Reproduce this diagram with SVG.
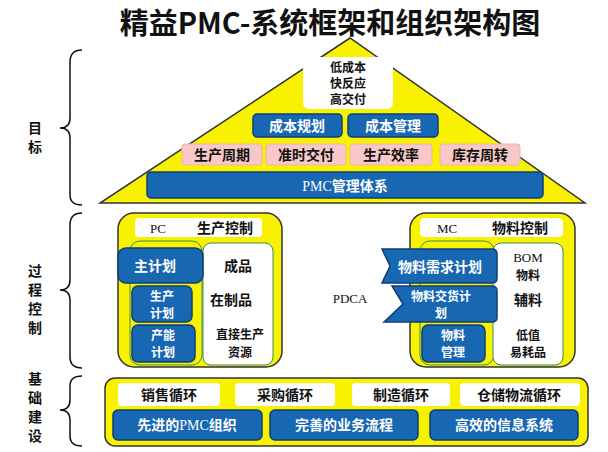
<svg xmlns="http://www.w3.org/2000/svg" width="608" height="452" viewBox="0 0 608 452">
<style>
text{font-family:"Noto Sans CJK SC","Liberation Sans",sans-serif;font-weight:bold;text-anchor:middle}
.y{fill:#f8f200;stroke:#333;stroke-width:1.5}
.b{fill:#1867b3;stroke:#0c3f73;stroke-width:1.5}
.w{fill:#fff}
.p{fill:#f7c8c8;stroke:#f0b0b0}
.wt{fill:#fff;font-size:14px}
.kt{fill:#111;font-size:14px}
.s{font-size:12px}
.br{fill:none;stroke:#111;stroke-width:1.5}
.sf{font-family:"Liberation Serif",serif;font-weight:normal}
</style>
<text x="330" y="34" style="font-size:29px" fill="#111">精益PMC-系统框架和组织架构图</text>
<g id="braces">
<path class="br" d="M82 50 Q70 50 70 62 L70 118 Q70 128 60 128 Q70 128 70 138 L70 195 Q70 205 82 205"/>
<path class="br" d="M82 213 Q70 213 70 225 L70 280 Q70 290 60 290 Q70 290 70 300 L70 357 Q70 368 82 368"/>
<path class="br" d="M82 376 Q70 376 70 386 L70 400 Q70 410 60 410 Q70 410 70 420 L70 436 Q70 446 82 446"/>
<text x="35" y="133" class="kt">目</text><text x="35" y="152" class="kt">标</text>
<text x="35" y="276" class="kt">过</text><text x="35" y="295" class="kt">程</text><text x="35" y="314" class="kt">控</text><text x="35" y="333" class="kt">制</text>
<text x="35" y="384" class="kt">基</text><text x="35" y="403" class="kt">础</text><text x="35" y="422" class="kt">建</text><text x="35" y="441" class="kt">设</text>
</g>
<g id="goal">
<polygon class="y" points="350,38 100,203 585,203"/>
<rect class="w" x="303" y="57" width="90" height="52" rx="6"/>
<text x="348" y="72" class="kt s">低成本</text><text x="348" y="88" class="kt s">快反应</text><text x="348" y="104" class="kt s">高交付</text>
<rect class="b" x="253" y="114" width="89" height="23" rx="4"/><text x="297" y="131" class="wt">成本规划</text>
<rect class="b" x="348" y="114" width="90" height="23" rx="4"/><text x="393" y="131" class="wt">成本管理</text>
<rect class="p" x="182" y="144" width="80" height="21" rx="3"/><text x="222" y="160" class="kt">生产周期</text>
<rect class="p" x="266" y="144" width="80" height="21" rx="3"/><text x="306" y="160" class="kt">准时交付</text>
<rect class="p" x="350" y="144" width="82" height="21" rx="3"/><text x="391" y="160" class="kt">生产效率</text>
<rect class="p" x="440" y="144" width="80" height="21" rx="3"/><text x="480" y="160" class="kt">库存周转</text>
<rect class="b" x="147" y="172" width="396" height="26" rx="4"/><text x="345" y="191" class="wt"><tspan class="sf">PMC</tspan>管理体系</text>
</g>
<g id="pc">
<rect class="y" x="118" y="213" width="164" height="154" rx="16"/>
<rect class="w" x="135" y="218" width="127" height="19" rx="4"/>
<text x="158" y="233" class="kt sf" style="font-size:13px">PC</text><text x="225" y="233" class="kt">生产控制</text>
<rect x="130" y="241" width="72" height="124" rx="10" fill="none" stroke="#3a8a60"/>
<rect class="w" x="203" y="243" width="70" height="122" rx="8" stroke="#3a8a60"/>
<rect class="b" x="118" y="248" width="85" height="35" rx="8"/><text x="155" y="271" class="wt">主计划</text>
<rect class="b" x="132" y="286" width="60" height="36" rx="6"/><text x="162" y="301" class="wt s">生产</text><text x="162" y="318" class="wt s">计划</text>
<rect class="b" x="132" y="325" width="63" height="37" rx="6"/><text x="163" y="340" class="wt s">产能</text><text x="163" y="357" class="wt s">计划</text>
<text x="238" y="271" class="kt">成品</text>
<text x="231" y="305" class="kt">在制品</text>
<text x="240" y="339" class="kt s">直接生产</text><text x="240" y="357" class="kt s">资源</text>
</g>
<text x="350" y="303" class="kt sf" style="font-size:13px">PDCA</text>
<g id="mc">
<rect class="y" x="410" y="213" width="165" height="154" rx="16"/>
<rect class="w" x="420" y="218" width="143" height="19" rx="4"/>
<text x="447" y="233" class="kt sf" style="font-size:13px">MC</text><text x="520" y="233" class="kt">物料控制</text>
<rect x="420" y="241" width="74" height="124" rx="10" fill="none" stroke="#3a8a60"/>
<rect class="w" x="493" y="243" width="70" height="122" rx="8" stroke="#3a8a60"/>
<path class="b" d="M382 249 L492 249 Q497 249 497 254 L497 278 Q497 283 492 283 L382 283 L390 266 Z"/>
<text x="440" y="272" class="wt">物料需求计划</text>
<path class="b" d="M392 286 L492 286 Q497 286 497 291 L497 317 Q497 322 492 322 L384 322 L403 304 Z"/>
<text x="441" y="301" class="wt s">物料交货计</text><text x="441" y="318" class="wt s">划</text>
<rect class="b" x="422" y="325" width="63" height="37" rx="6"/><text x="453" y="340" class="wt s">物料</text><text x="453" y="357" class="wt s">管理</text>
<text x="528" y="262" class="kt sf" style="font-size:13px">BOM</text><text x="528" y="280" class="kt s">物料</text>
<text x="528" y="305" class="kt">辅料</text>
<text x="528" y="340" class="kt s">低值</text><text x="528" y="357" class="kt s">易耗品</text>
</g>
<g id="base">
<rect class="y" x="105" y="378" width="483" height="68" rx="10"/>
<rect class="w" x="118" y="383" width="102" height="23" rx="4"/><text x="169" y="400" class="kt">销售循环</text>
<rect class="w" x="235" y="383" width="100" height="23" rx="4"/><text x="285" y="400" class="kt">采购循环</text>
<rect class="w" x="352" y="383" width="98" height="23" rx="4"/><text x="401" y="400" class="kt">制造循环</text>
<rect class="w" x="460" y="383" width="120" height="23" rx="4"/><text x="519" y="400" class="kt">仓储物流循环</text>
<rect class="b" x="113" y="410" width="149" height="30" rx="5"/><text x="187" y="430" class="wt">先进的<tspan class="sf">PMC</tspan>组织</text>
<rect class="b" x="270" y="410" width="148" height="30" rx="5"/><text x="344" y="430" class="wt">完善的业务流程</text>
<rect class="b" x="430" y="410" width="148" height="30" rx="5"/><text x="504" y="430" class="wt">高效的信息系统</text>
</g>
</svg>
